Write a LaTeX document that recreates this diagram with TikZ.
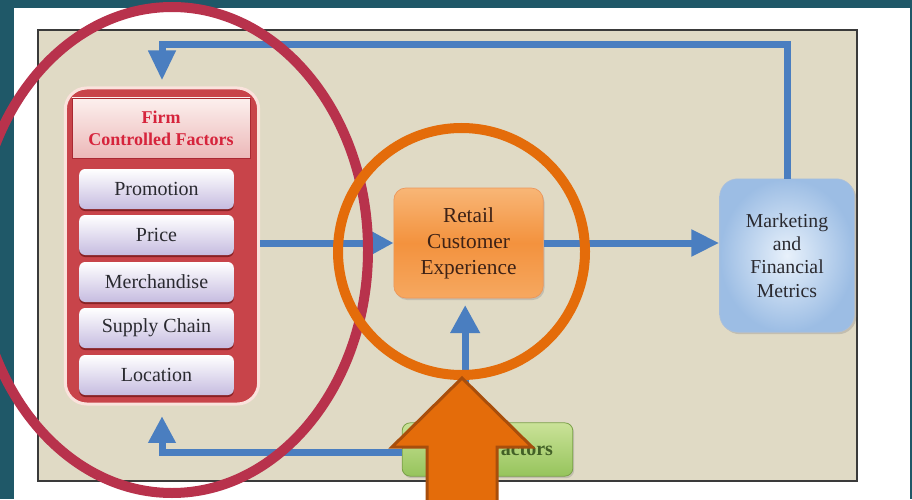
\documentclass[tikz,border=0pt]{standalone}
\usepackage{fontspec}
\setmainfont{Liberation Serif}
\usetikzlibrary{arrows.meta,shadows}

\definecolor{slate}{RGB}{31,88,104}
\definecolor{panelbg}{RGB}{224,218,197}
\definecolor{flowblue}{RGB}{74,126,192}
\definecolor{firmred}{RGB}{200,68,74}
\definecolor{firmglow}{RGB}{250,226,220}
\definecolor{headred}{RGB}{214,36,60}
\definecolor{itemlilac}{RGB}{198,188,224}
\definecolor{inkgray}{RGB}{42,42,48}
\definecolor{ringred}{RGB}{184,50,76}
\definecolor{ringorange}{RGB}{228,108,10}
\definecolor{arrowedge}{RGB}{168,78,12}

\tikzset{
  flow/.style={draw=flowblue, line width=5.25pt},
  firmbox/.style={rounded corners=16pt, fill=firmred, draw=firmglow, line width=2.25pt,
    minimum width=145pt, minimum height=237pt},
  headbox/.style={top color={rgb,255:red,252;green,240;blue,238}, bottom color={rgb,255:red,236;green,184;blue,184},
    draw={rgb,255:red,170;green,40;blue,50}, line width=0.6pt,
    minimum width=133.5pt, minimum height=45pt, inner sep=0pt, align=center,
    text=headred, font=\fontsize{13.5}{16.5}\selectfont\bfseries},
  itembox/.style={rounded corners=4.5pt, top color=white, bottom color=itemlilac,
    minimum width=116pt, minimum height=30pt, inner sep=0pt, text=inkgray,
    font=\fontsize{15}{18}\selectfont,
    drop shadow={shadow xshift=0pt, shadow yshift=-1.5pt, opacity=0.5, fill=black!70!red}},
  rcebox/.style={rounded corners=9pt, top color={rgb,255:red,248;green,182;blue,118},
    bottom color={rgb,255:red,246;green,168;blue,96}, middle color={rgb,255:red,243;green,146;blue,62},
    draw={rgb,255:red,236;green,150;blue,90}, line width=0.5pt,
    minimum width=112pt, minimum height=82.5pt, inner sep=0pt, align=center,
    text={rgb,255:red,62;green,34;blue,22}, font=\fontsize{16}{19.5}\selectfont,
    drop shadow={shadow xshift=1pt, shadow yshift=-1.5pt, opacity=0.3}},
  mfmbox/.style={rounded corners=13.5pt, inner color={rgb,255:red,232;green,241;blue,251},
    outer color={rgb,255:red,156;green,189;blue,228},
    draw={rgb,255:red,172;green,192;blue,218}, line width=0.5pt,
    minimum width=101pt, minimum height=115pt, inner sep=0pt, align=center,
    text=inkgray, font=\fontsize{14.8}{17.6}\selectfont,
    drop shadow={shadow xshift=1.5pt, shadow yshift=-1.5pt, opacity=0.3}},
  macrobox/.style={rounded corners=6pt, top color={rgb,255:red,202;green,226;blue,152},
    bottom color={rgb,255:red,150;green,196;blue,92},
    draw={rgb,255:red,122;green,160;blue,72}, line width=0.6pt,
    minimum width=128pt, minimum height=40pt, inner sep=0pt,
    text={rgb,255:red,66;green,96;blue,38}, font=\fontsize{15}{18}\selectfont\bfseries,
    drop shadow={shadow xshift=1pt, shadow yshift=-1.5pt, opacity=0.3}},
  bigarrow/.style={fill=ringorange, draw=arrowedge, line width=2.25pt, line join=miter},
}

\begin{document}
\begin{tikzpicture}[x=0.75pt,y=0.75pt,yscale=-1,xscale=1]
\useasboundingbox (0,0) rectangle (912,499);

% backdrop and panel
\fill [slate] (0,0) rectangle (912,499);
\fill [white] (14,8) rectangle (910,506);
\draw [fill=panelbg, draw={rgb,255:red,58;green,58;blue,58}, line width=1.5pt] (38,30) rectangle (857,481);

% Firm controlled factors
\node [firmbox] (firm) at (162,246) {};
\node [headbox] (head) at (161,128) {Firm\\Controlled Factors};
\foreach \name/\ypos/\lbl in {promo/189/Promotion, price/235/Price, merch/282/Merchandise,
    chain/328/Supply Chain, place/375/Location}
  \node [itembox] (\name) at (156.5,\ypos) {\lbl};

% Text Node
\node [rcebox] (rce) at (468.5,243) {Retail\\Customer\\Experience};
% Text Node
\node [mfmbox] (mfm) at (787,255.5) {Marketing\\and\\Financial\\Metrics};
% Text Node
\node [macrobox] (macro) at (487.5,449.5) {\hspace*{4pt}Macro Factors};

%Straight Lines
\coordinate (loop) at (0,45);
\draw [flow, -{Triangle[length=17pt,width=17pt]}] (firm.east |- rce.west) -- (rce.west);
\draw [flow, -{Triangle[length=21pt,width=19pt]}] (rce.east) -- (rce.east -| mfm.west);
\draw [flow, -{Triangle[length=22.5pt,width=19.5pt]}, shorten >=4.5pt]
  (mfm.north) |- (loop -| firm.north) -- (firm.north);
\draw [flow, -{Triangle[length=20pt,width=19.5pt]}, shorten >=8pt]
  ([yshift=2.5pt]macro.west) -| (firm.south);
\draw [flow, -{Triangle[length=21pt,width=21pt]}, shorten >=5pt]
  ([xshift=-2.5pt]macro.north -| rce.south) -- ([xshift=-2.5pt]rce.south);

% highlight rings
\draw [ringred, line width=7.5pt] (172,250) ellipse [x radius=196, y radius=243];
\draw [ringorange, line width=7.5pt] (461.5,251.5) circle [radius=123.5];

% big arrow
\draw [bigarrow] (462,378) -- (532,447) -- (497,447) -- (497,508) -- (427,508) -- (427,447) -- (392,447) -- cycle;

\end{tikzpicture}
\end{document}
